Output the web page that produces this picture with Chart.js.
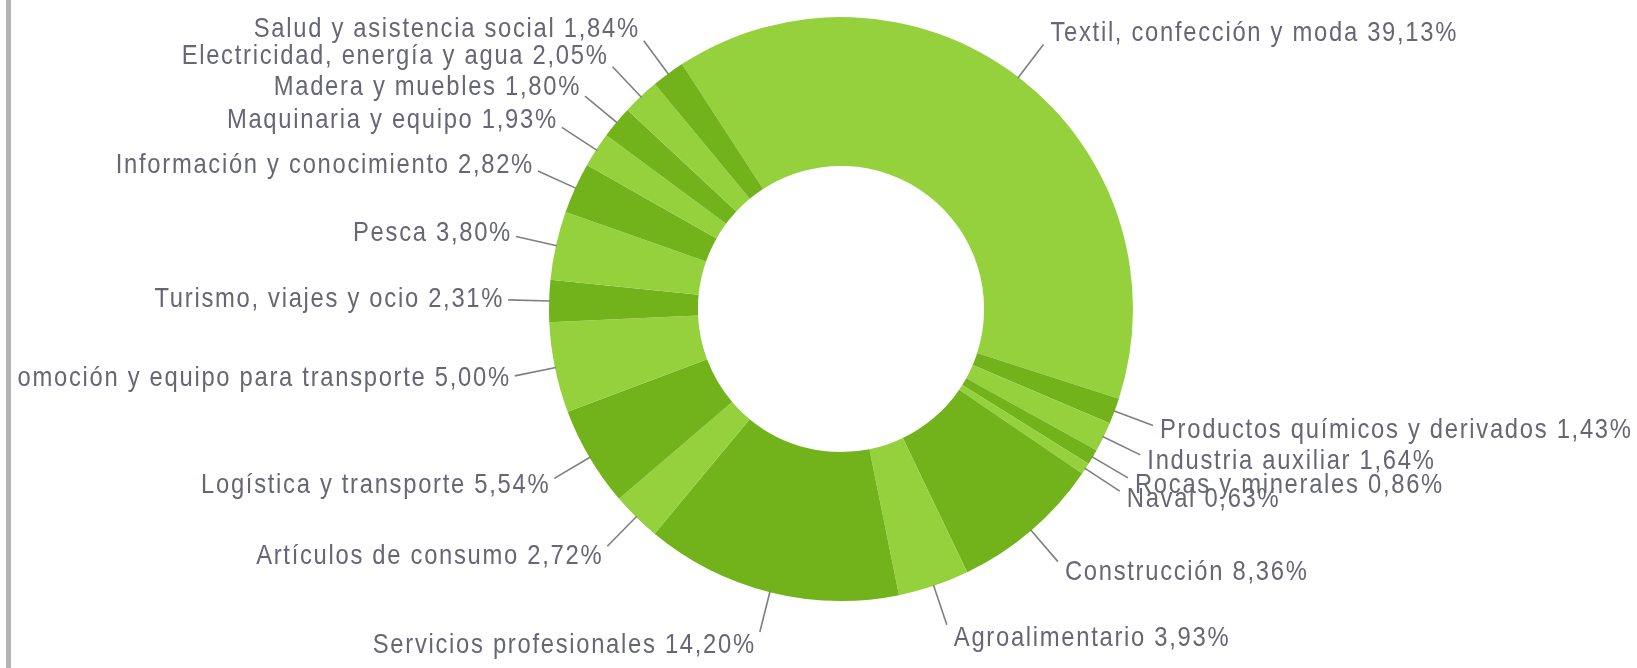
<!DOCTYPE html>
<html>
<head>
<meta charset="utf-8">
<script src="https://cdn.jsdelivr.net/npm/chart.js@4"></script>
<style>
  html, body { margin: 0; padding: 0; background: #ffffff; width: 1637px; height: 668px; overflow: hidden; }
  #rule { position: absolute; left: 6px; top: 0; width: 5px; height: 668px; background: #b3b3b3; }
  #wrap { position: absolute; left: 17px; top: 0; width: 1620px; height: 668px; overflow: hidden; }
</style>
</head>
<body>
<div id="rule"></div>
<div id="wrap"><canvas id="c" width="1620" height="668"></canvas></div>
<script>
const categories = [
  'Textil, confección y moda',
  'Productos químicos y derivados',
  'Industria auxiliar',
  'Rocas y minerales',
  'Naval',
  'Construcción',
  'Agroalimentario',
  'Servicios profesionales',
  'Artículos de consumo',
  'Logística y transporte',
  'Automoción y equipo para transporte',
  'Turismo, viajes y ocio',
  'Pesca',
  'Información y conocimiento',
  'Maquinaria y equipo',
  'Madera y muebles',
  'Electricidad, energía y agua',
  'Salud y asistencia social'
];
const values = [39.13, 1.43, 1.64, 0.86, 0.63, 8.36, 3.93, 14.20, 2.72, 5.54, 5.00, 2.31, 3.80, 2.82, 1.93, 1.80, 2.05, 1.84];

const lightGreen = '#95d13c';
const darkGreen = '#72b31c';
const sliceColors = values.map((v, i) => (i % 2 === 0 ? lightGreen : darkGreen));

const fmt = v => v.toFixed(2).replace('.', ',') + '%';

const outsideLabels = {
  id: 'outsideLabels',
  afterDatasetsDraw(chart) {
    const ctx = chart.ctx;
    const meta = chart.getDatasetMeta(0);
    const sx = 0.85;
    meta.data.forEach((arc, i) => {
      const p = arc.getProps(['x', 'y', 'startAngle', 'endAngle', 'outerRadius'], true);
      const a = (p.startAngle + p.endAngle) / 2;
      const ca = Math.cos(a), sa = Math.sin(a);
      const r0 = p.outerRadius - 1;
      const r1 = p.outerRadius + 41;
      const x0 = p.x + ca * r0, y0 = p.y + sa * r0;
      const x1 = p.x + ca * r1, y1 = p.y + sa * r1;
      ctx.save();
      ctx.strokeStyle = '#7f7f7f';
      ctx.lineWidth = 1.6;
      ctx.beginPath();
      ctx.moveTo(x0, y0);
      ctx.lineTo(x1, y1);
      ctx.stroke();
      const right = ca >= 0;
      const tx = x1 + (right ? 7 : -4);
      const ty = y1 + sa * 14;
      ctx.translate(tx, ty);
      ctx.scale(sx, 1);
      ctx.font = '28px "Liberation Sans", Arial, sans-serif';
      if ('letterSpacing' in ctx) ctx.letterSpacing = '2px';
      ctx.textBaseline = 'middle';
      ctx.textAlign = right ? 'left' : 'right';
      ctx.fillStyle = '#666676';
      ctx.fillText(categories[i] + ' ' + fmt(values[i]), 0, 0);
      ctx.restore();
    });
  }
};

new Chart(document.getElementById('c'), {
  type: 'doughnut',
  data: {
    labels: categories,
    datasets: [{
      data: values,
      backgroundColor: sliceColors,
      borderWidth: 0,
      hoverOffset: 0,
      offset: 0
    }]
  },
  options: {
    responsive: false,
    animation: false,
    events: [],
    rotation: -33,
    cutout: '49%',
    layout: { padding: { left: 532, right: 504, top: 17, bottom: 67 } },
    plugins: {
      legend: { display: false },
      tooltip: { enabled: false }
    }
  },
  plugins: [outsideLabels]
});
</script>
</body>
</html>
